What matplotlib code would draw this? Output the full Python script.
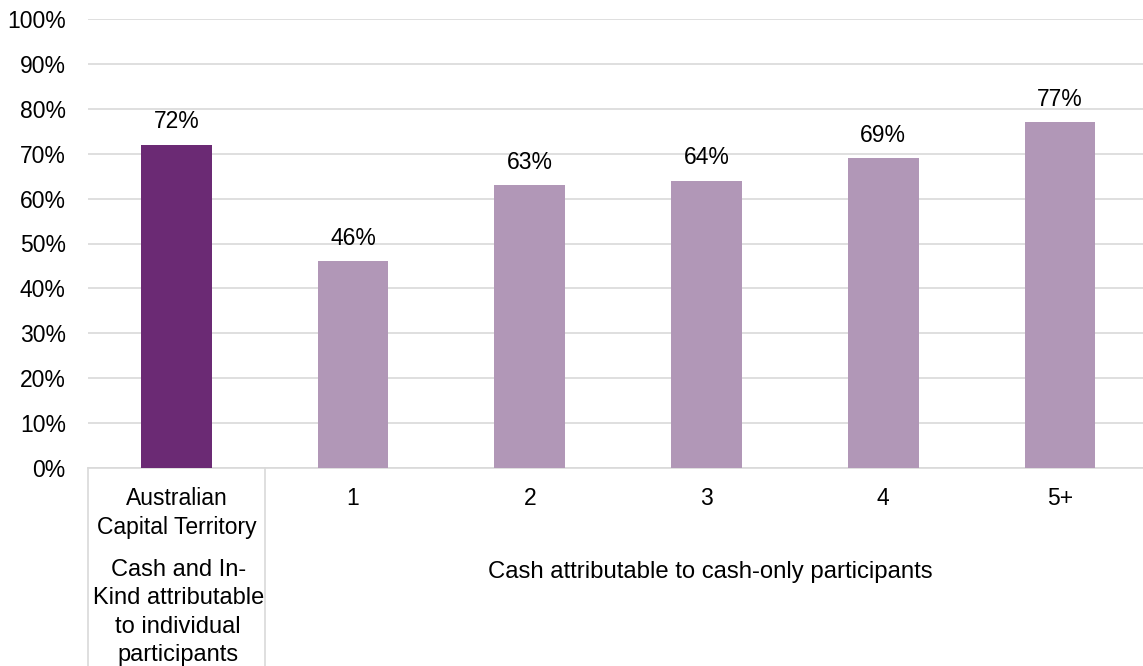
import matplotlib.pyplot as plt
from matplotlib.lines import Line2D
import matplotlib.transforms as mtransforms

plt.rcParams['font.family'] = ['Liberation Sans', 'DejaVu Sans']

categories = ["Australian\nCapital Territory", "1", "2", "3", "4", "5+"]
values = [72, 46, 63, 64, 69, 77]
bar_colors = ["#6B2A74", "#B197B7", "#B197B7", "#B197B7", "#B197B7", "#B197B7"]
group_labels = ["Cash and In-\nKind attributable\nto individual\nparticipants",
                "Cash attributable to cash-only participants"]
yticks = [0, 10, 20, 30, 40, 50, 60, 70, 80, 90, 100]

W, H = 1143, 666
FS = 16.5
fig = plt.figure(figsize=(W / 100, H / 100), dpi=100)
left, right = 88 / W, 1.0
bottom, top = 1 - 468 / H, 1 - 19 / H
ax = fig.add_axes([left, bottom, right - left, top - bottom])

x = list(range(len(categories)))
ax.bar(x, values, width=0.4, color=bar_colors, zorder=3)
for xi, v in zip(x, values):
    ax.text(xi, v + 2.5, f"{v}%", ha="center", va="bottom", fontsize=FS)

ax.set_ylim(0, 100)
ax.set_xlim(-0.5, 5.47)
ax.set_yticks(yticks)
ax.set_yticklabels([f"{t}%" for t in yticks], fontsize=FS)
ax.tick_params(axis="y", length=0, pad=16)
ax.set_xticks([])
ax.grid(axis="y", color="#D9D9D9", linewidth=1.2, zorder=0)
for s in ["left", "right", "top"]:
    ax.spines[s].set_visible(False)
ax.spines["bottom"].set_color("#D9D9D9")
ax.spines["bottom"].set_linewidth(1.2)

# category labels below axis
trans = mtransforms.blended_transform_factory(ax.transData, fig.transFigure)
for xi, c in zip(x, categories):
    ax.text(xi, 1 - 487 / H, c, transform=trans, ha="center", va="top",
            fontsize=FS, linespacing=1.32)

# group labels
ax.text(0.01, 1 - 559 / H, group_labels[0], transform=trans, ha="center", va="top",
        fontsize=17, linespacing=1.37)
ax.text(3.02, 1 - 572 / H, group_labels[1], transform=trans, ha="center", va="center",
        fontsize=17.2)

# separator lines
for xs in [-0.5, 0.5]:
    fig.add_artist(Line2D([xs, xs], [0, bottom], transform=trans, color="#D9D9D9",
                          linewidth=1.2))

fig.savefig("out.png", dpi=100)
